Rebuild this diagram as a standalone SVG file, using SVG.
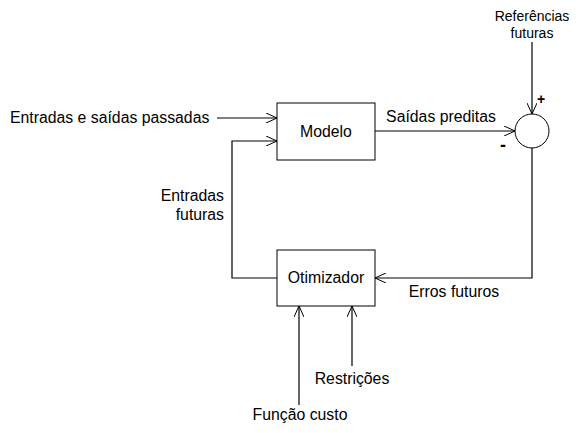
<svg xmlns="http://www.w3.org/2000/svg" width="582" height="433" viewBox="0 0 582 433">
<defs>
<marker id="arr" viewBox="0 0 12 10" refX="11" refY="5" markerWidth="12" markerHeight="10" markerUnits="userSpaceOnUse" orient="auto">
<path d="M0,0 L11,5 L0,10" fill="none" stroke="#000" stroke-width="1"/>
</marker>
<style>
text{font-family:"Liberation Sans",Arial,sans-serif;font-size:15.8px;fill:#000}
.sm{font-size:14px}
.box{fill:#fff;stroke:#000;stroke-width:1}
.ln{fill:none;stroke:#000;stroke-width:1.2}
</style>
</defs>
<rect width="582" height="433" fill="#fff"/>
<g id="connectors">
<path class="ln" d="M217,118 H277" marker-end="url(#arr)"/>
<path class="ln" d="M277,278 H232 V141 H277" marker-end="url(#arr)"/>
<path class="ln" d="M375,131 H515" marker-end="url(#arr)"/>
<path class="ln" d="M532,42 V114" marker-end="url(#arr)"/>
<path class="ln" d="M532,148 V278 H375" marker-end="url(#arr)"/>
<path class="ln" d="M299,405 V306" marker-end="url(#arr)"/>
<path class="ln" d="M352,366 V306" marker-end="url(#arr)"/>
<text x="541" y="104" class="sm" text-anchor="middle" font-weight="bold">+</text>
<text x="503" y="151" text-anchor="middle" style="font-size:18px;font-weight:bold">-</text>
</g>
<g id="modelo">
<rect class="box" x="277" y="103" width="98" height="57"/>
<text x="326" y="137" text-anchor="middle">Modelo</text>
</g>
<g id="otimizador">
<rect class="box" x="277" y="250" width="98" height="56"/>
<text x="326" y="283" text-anchor="middle">Otimizador</text>
</g>
<g id="somador">
<circle class="box" cx="532" cy="131" r="17"/>
</g>
<g id="labels">
<text x="10" y="123">Entradas e saídas passadas</text>
<text x="441" y="122" text-anchor="middle">Saídas preditas</text>
<text x="532" y="21" class="sm" text-anchor="middle">Referências</text>
<text x="532" y="38" class="sm" text-anchor="middle">futuras</text>
<text x="224" y="201" text-anchor="end">Entradas</text>
<text x="224" y="220" text-anchor="end">futuras</text>
<text x="454" y="297" text-anchor="middle">Erros futuros</text>
<text x="352" y="384" text-anchor="middle">Restrições</text>
<text x="300" y="420" text-anchor="middle">Função custo</text>
</g>
</svg>
